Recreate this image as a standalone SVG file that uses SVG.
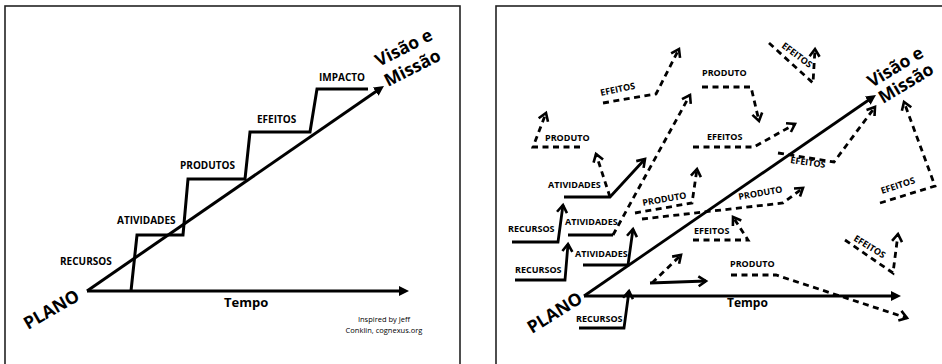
<svg xmlns="http://www.w3.org/2000/svg" width="942" height="364" viewBox="0 0 942 364">
<style>
text{font-family:"Open Sans","Liberation Sans",sans-serif;font-weight:700;fill:#000}
.l{font-size:10px}
.r{font-size:9px}
.big{font-size:17.5px}
.sm{font-size:7.5px;font-weight:400;text-anchor:middle}
.frame{fill:none;stroke:#222;stroke-width:1.6}
.s{fill:none;stroke:#000;stroke-width:3;stroke-linejoin:miter}
.t{fill:none;stroke:#000;stroke-width:2.8;stroke-linejoin:miter}
.d{fill:none;stroke:#000;stroke-width:2.8;stroke-dasharray:6 4.5}
</style>
<defs>
<marker id="tri" markerUnits="userSpaceOnUse" viewBox="0 -6 12 12" refX="2" refY="0" markerWidth="12" markerHeight="12" orient="auto">
<path d="M0,-5 L10,0 L0,5 z" fill="#000"/>
</marker>
<marker id="chev" markerUnits="userSpaceOnUse" viewBox="-10 -7 14 14" refX="0" refY="0" markerWidth="14" markerHeight="14" orient="auto">
<path d="M-7.5,-5 L0,0 L-7.5,5" fill="none" stroke="#000" stroke-width="2.6" stroke-dasharray="none"/>
</marker>
</defs>
<rect class="frame" x="5" y="6" width="455" height="380"/>
<rect class="frame" x="496" y="6" width="460" height="380"/>

<g id="connectors">
<!-- left panel -->
<path class="s" d="M87,291 H401" marker-end="url(#tri)"/>
<path class="s" d="M87,291 L377.4,90.5" marker-end="url(#tri)"/>
<path class="s" d="M131,291 L137,235 L183,235 L188,179 L245,179 L250,132 L310,132 L317,89 L368,89"/>
<!-- right panel solid -->
<path class="s" d="M584,296 H893" marker-end="url(#tri)"/>
<path class="t" d="M584,296 L869.4,99.5" marker-end="url(#tri)"/>
<path class="t" d="M512,242 H558 L563,205" marker-end="url(#chev)"/>
<path class="t" d="M564,197 H610 L645,159" marker-end="url(#chev)"/>
<path class="t" d="M515,280 H565 L568,244" marker-end="url(#chev)"/>
<path class="t" d="M568,235 H613"/>
<path class="t" d="M583,265 H628 L633,229" marker-end="url(#chev)"/>
<path class="t" d="M579,328 H624 L629,291" marker-end="url(#chev)"/>
<path class="t" d="M650,283 L706,281" marker-end="url(#chev)"/>
<!-- right panel dashed -->
<path class="d" d="M613,235 L690,95" marker-end="url(#chev)"/>
<path class="d" d="M610,197 L596,154" marker-end="url(#chev)"/>
<path class="d" d="M580,147 H533 L546,113" marker-end="url(#chev)"/>
<path class="d" d="M603,103 L656,94 L679,49" marker-end="url(#chev)"/>
<path class="d" d="M702,87 H751 L759,121" marker-end="url(#chev)"/>
<path class="d" d="M769,43 L813,83 L815,49" marker-end="url(#chev)"/>
<path class="d" d="M693,147 H754 L795,124" marker-end="url(#chev)"/>
<path class="d" d="M778,153 L834,162 L875,107" marker-end="url(#chev)"/>
<path class="d" d="M880,203 L935,186 L904,102" marker-end="url(#chev)"/>
<path class="d" d="M635,213 L692,203 L697,169" marker-end="url(#chev)"/>
<path class="d" d="M642,219 L783,203 L803,188" marker-end="url(#chev)"/>
<path class="d" d="M693,240 H748 L733,217" marker-end="url(#chev)"/>
<path class="d" d="M652,283 L681,255" marker-end="url(#chev)"/>
<path class="d" d="M731,275 H776 L907,318" marker-end="url(#chev)"/>
<path class="d" d="M845,240 L893,273 L898,234" marker-end="url(#chev)"/>
</g>

<!-- left panel nodes -->
<g id="l-recursos"><text class="l" x="60" y="265">RECURSOS</text></g>
<g id="l-atividades"><text class="l" x="117" y="224">ATIVIDADES</text></g>
<g id="l-produtos"><text class="l" x="180" y="169">PRODUTOS</text></g>
<g id="l-efeitos"><text class="l" x="257" y="123">EFEITOS</text></g>
<g id="l-impacto"><text class="l" x="319" y="81">IMPACTO</text></g>
<g id="l-visao"><text class="big" transform="translate(379,67) rotate(-27)">Visão e</text><text class="big" transform="translate(388,87) rotate(-27)">Missão</text></g>
<g id="l-plano"><text class="big" transform="translate(28,330) rotate(-30)">PLANO</text></g>
<g id="l-tempo"><text style="font-size:13px" x="224" y="307">Tempo</text></g>
<g id="l-credit"><text class="sm" x="384" y="322">Inspired by Jeff</text><text class="sm" x="384" y="333">Conklin, cognexus.org</text></g>

<!-- right panel nodes -->
<g id="r-produto1"><text class="r" x="545" y="141">PRODUTO</text></g>
<g id="r-atividades1"><text class="r" x="548" y="188">ATIVIDADES</text></g>
<g id="r-recursos1"><text class="r" x="508" y="232">RECURSOS</text></g>
<g id="r-atividades2"><text class="r" x="565" y="225">ATIVIDADES</text></g>
<g id="r-recursos2"><text class="r" x="515" y="273">RECURSOS</text></g>
<g id="r-atividades3"><text class="r" x="575" y="257">ATIVIDADES</text></g>
<g id="r-recursos3"><text class="r" x="576" y="322">RECURSOS</text></g>
<g id="r-efeitos1"><text class="r" transform="translate(601,96) rotate(-12)">EFEITOS</text></g>
<g id="r-produto2"><text class="r" x="702" y="76">PRODUTO</text></g>
<g id="r-efeitos2"><text class="r" transform="translate(781,47) rotate(37)">EFEITOS</text></g>
<g id="r-efeitos3"><text class="r" x="707" y="140">EFEITOS</text></g>
<g id="r-efeitos4"><text class="r" transform="translate(790,163) rotate(8)">EFEITOS</text></g>
<g id="r-produto3"><text class="r" transform="translate(643,206) rotate(-10)">PRODUTO</text></g>
<g id="r-produto4"><text class="r" transform="translate(739,200) rotate(-10)">PRODUTO</text></g>
<g id="r-efeitos5"><text class="r" x="694" y="234">EFEITOS</text></g>
<g id="r-produto5"><text class="r" x="730" y="267">PRODUTO</text></g>
<g id="r-efeitos6"><text class="r" transform="translate(882,194) rotate(-18)">EFEITOS</text></g>
<g id="r-efeitos7"><text class="r" transform="translate(853,240) rotate(32)">EFEITOS</text></g>
<g id="r-visao"><text class="big" transform="translate(872,88) rotate(-31)">Visão e</text><text class="big" transform="translate(883,104) rotate(-31)">Missão</text></g>
<g id="r-plano"><text class="big" transform="translate(532,334) rotate(-32)">PLANO</text></g>
<g id="r-tempo"><text style="font-size:12px" x="727" y="307">Tempo</text></g>
</svg>
